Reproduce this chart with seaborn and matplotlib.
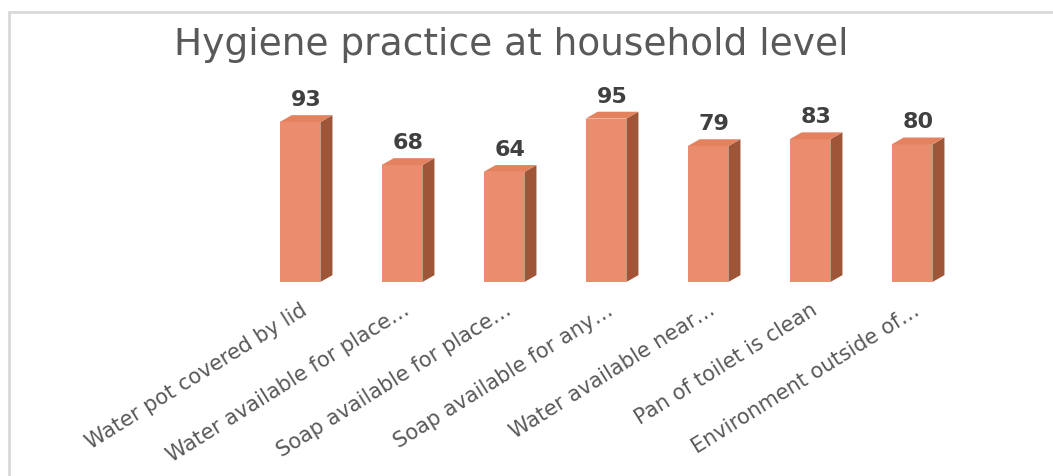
import matplotlib
matplotlib.use("Agg")
import matplotlib.pyplot as plt
import seaborn as sns
import pandas as pd
from matplotlib.patches import Rectangle

categories = [
    "Water pot covered by lid",
    "Water available for place\u2026",
    "Soap available for place\u2026",
    "Soap available for any\u2026",
    "Water available near\u2026",
    "Pan of toilet is clean",
    "Environment outside of\u2026",
]
values = [93, 68, 64, 95, 79, 83, 80]
title = "Hygiene practice at household level"

front_color = "#EA8C6D"
side_color = "#9E5538"
top_color = "#E4825F"
text_color = "#595959"

sns.set_theme(style="white")
plt.rcParams["font.family"] = ["DejaVu Sans"]

fig = plt.figure(figsize=(10.53, 4.76), dpi=100)
W, H = 1053, 476
left_px, right_px = 249, 249 + 7 * 102
ymax = 110
base_px = 282
scale = 1.72
ax = fig.add_axes([left_px / W, (H - base_px) / H, (right_px - left_px) / W, ymax * scale / H])

df = pd.DataFrame({"cat": categories, "val": values})
sns.barplot(data=df, x="cat", y="val", color=front_color, width=0.40,
            saturation=1, ax=ax, edgecolor="none", linewidth=0)
ax.set_xlim(-0.5, 6.5)
ax.set_ylim(0, ymax)

dx = 0.118
dy = 4.0
for p, v in zip(ax.patches, values):
    x0 = p.get_x()
    w = p.get_width()
    h = p.get_height()
    ax.fill([x0 + w, x0 + w + dx, x0 + w + dx, x0 + w],
            [0, dy, h + dy, h], color=side_color, lw=0, clip_on=False, zorder=3)
    ax.fill([x0, x0 + w, x0 + w + dx, x0 + dx],
            [h, h, h + dy, h + dy], color=top_color, lw=0, clip_on=False, zorder=3)
    ax.text(x0 + w / 2 + dx / 2, h + dy + 3, f"{v:g}", ha="center", va="bottom",
            fontsize=16, fontweight="bold", color="#404040", clip_on=False)

for s in ax.spines.values():
    s.set_visible(False)
ax.set_yticks([])
ax.set_xlabel("")
ax.set_ylabel("")
ax.tick_params(axis="x", length=0, pad=13)
ax.set_xticks(range(len(categories)))
ax.set_xticklabels(categories, rotation=32, ha="right", rotation_mode="anchor",
                   fontsize=15, color=text_color)

fig.text(511 / W, 1 - 45 / H, title, ha="center", va="center",
         fontsize=27, color=text_color)

fig.patches.append(Rectangle((8.5 / W, -0.05), 1.2, 1 - 11.5 / H + 0.05,
                             transform=fig.transFigure, fill=False,
                             edgecolor="#D9D9D9", lw=2, zorder=0))

fig.savefig("out.png", dpi=100)
